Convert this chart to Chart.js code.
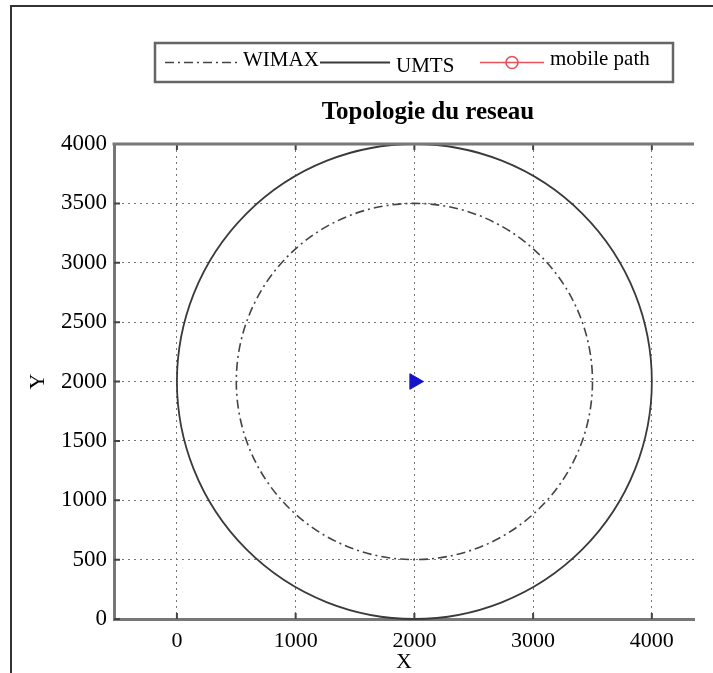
<!DOCTYPE html>
<html>
<head>
<meta charset="utf-8">
<script src="https://cdn.jsdelivr.net/npm/chart.js@4.4.1/dist/chart.umd.min.js"></script>
<style>
  html, body { margin: 0; padding: 0; background: #fff; }
  #wrap { width: 713px; height: 673px; }
</style>
</head>
<body>
<div id="wrap"><canvas id="topo" width="713" height="673"></canvas></div>
<script>
// Cells: centre and coverage radius (m)
const cellNames = ['WIMAX', 'UMTS'];
const cellCenterX = [2000, 2000];
const cellCenterY = [2000, 2000];
const cellRadius = [1500, 2000];

// Mobile path (nothing travelled yet) and base station marker
const mobilePathX = [];
const mobilePathY = [];
const stationX = [2000];
const stationY = [2000];

// Axes
const xTicks = [0, 1000, 2000, 3000, 4000];
const yTicks = [0, 500, 1000, 1500, 2000, 2500, 3000, 3500, 4000];
const xRange = [-530, 4355];
const yRange = [0, 4000];

const chartTitle = 'Topologie du reseau';
const serif = '"Liberation Serif", "Times New Roman", serif';

function toPoints(xs, ys) {
    return xs.map((x, i) => ({ x: x, y: ys[i] }));
}

// White page + the thin frame round the figure
const framePlugin = {
    id: 'frame',
    beforeDraw(chart) {
        const ctx = chart.ctx;
        ctx.save();
        ctx.fillStyle = '#fff';
        ctx.fillRect(0, 0, chart.width, chart.height);
        ctx.strokeStyle = '#333';
        ctx.lineWidth = 2;
        ctx.beginPath();
        ctx.moveTo(11, chart.height);
        ctx.lineTo(11, 6);
        ctx.lineTo(chart.width, 6);
        ctx.stroke();
        ctx.restore();
    }
};

// Coverage circles drawn through the scales
const coveragePlugin = {
    id: 'coverage',
    beforeDatasetsDraw(chart) {
        const { ctx, chartArea, scales: { x, y } } = chart;
        ctx.save();
        ctx.beginPath();
        ctx.rect(chartArea.left, chartArea.top - 2, chartArea.right - chartArea.left, chartArea.bottom - chartArea.top + 4);
        ctx.clip();
        chart.data.datasets.forEach(ds => {
            if (ds.coverage === undefined) return;
            const c = ds.data[0];
            const px = x.getPixelForValue(c.x);
            const py = y.getPixelForValue(c.y);
            const rx = Math.abs(x.getPixelForValue(c.x + ds.coverage) - px);
            const ry = Math.abs(y.getPixelForValue(c.y + ds.coverage) - py);
            ctx.beginPath();
            ctx.setLineDash(ds.borderDash || []);
            ctx.lineWidth = ds.borderWidth;
            ctx.strokeStyle = ds.borderColor;
            ctx.ellipse(px, py, rx, ry, 0, 0, Math.PI * 2);
            ctx.stroke();
        });
        ctx.restore();
    }
};

// Top spine and the little inward tick marks
const spinePlugin = {
    id: 'spines',
    afterDatasetsDraw(chart) {
        const { ctx, chartArea: a, scales: { x, y } } = chart;
        ctx.save();
        ctx.strokeStyle = '#444';
        ctx.lineWidth = 2;
        ctx.beginPath();
        xTicks.forEach(v => {
            const px = x.getPixelForValue(v);
            ctx.moveTo(px, a.bottom); ctx.lineTo(px, a.bottom - 6);
            ctx.moveTo(px, a.top); ctx.lineTo(px, a.top + 6);
        });
        yTicks.forEach(v => {
            const py = y.getPixelForValue(v);
            ctx.moveTo(a.left, py); ctx.lineTo(a.left + 6, py);
        });
        ctx.stroke();
        ctx.strokeStyle = '#777';
        ctx.lineWidth = 3;
        ctx.beginPath();
        ctx.moveTo(a.left - 1.5, a.top);
        ctx.lineTo(a.right, a.top);
        ctx.stroke();
        ctx.restore();
    }
};

// Boxed legend and title, MATLAB style
const boxLegendPlugin = {
    id: 'boxLegend',
    afterDraw(chart, args, opts) {
        const ctx = chart.ctx;
        const b = opts.box;
        ctx.save();
        ctx.fillStyle = '#000';
        ctx.textAlign = 'center';
        ctx.textBaseline = 'middle';
        ctx.font = 'bold 25px ' + serif;
        ctx.fillText(opts.title, opts.titleX, opts.titleY);

        ctx.textAlign = 'left';
        ctx.strokeStyle = '#666';
        ctx.lineWidth = 2.5;
        ctx.strokeRect(b.left, b.top, b.right - b.left, b.bottom - b.top);
        ctx.font = '21px ' + serif;
        const midY = (b.top + b.bottom) / 2;
        chart.data.datasets.forEach((ds, i) => {
            const slot = opts.slots[i];
            if (!slot) return;
            const x0 = slot.x, x1 = slot.x + slot.w;
            ctx.beginPath();
            ctx.setLineDash(ds.borderDash || []);
            ctx.strokeStyle = ds.borderColor;
            ctx.lineWidth = ds.borderWidth;
            ctx.moveTo(x0, midY);
            ctx.lineTo(x1, midY);
            ctx.stroke();
            ctx.setLineDash([]);
            if (ds.legendMarker) {
                ctx.beginPath();
                ctx.arc((x0 + x1) / 2, midY, 6, 0, Math.PI * 2);
                ctx.stroke();
            }
            ctx.fillText(ds.label, x1 + opts.gap, midY + slot.dy);
        });
        ctx.restore();
    }
};

const ctx = document.getElementById('topo').getContext('2d');
const chart = new Chart(ctx, {
    type: 'scatter',
    data: {
        datasets: [
            {
                label: cellNames[0],
                data: [{ x: cellCenterX[0], y: cellCenterY[0] }],
                coverage: cellRadius[0],
                borderColor: '#444',
                borderWidth: 1.6,
                borderDash: [9, 4, 2, 4],
                pointRadius: 0,
                showLine: false
            },
            {
                label: cellNames[1],
                data: [{ x: cellCenterX[1], y: cellCenterY[1] }],
                coverage: cellRadius[1],
                borderColor: '#3a3a3a',
                borderWidth: 1.8,
                pointRadius: 0,
                showLine: false
            },
            {
                label: 'mobile path',
                data: toPoints(mobilePathX, mobilePathY),
                borderColor: '#e8505a',
                backgroundColor: 'rgba(0,0,0,0)',
                borderWidth: 1.6,
                showLine: true,
                pointStyle: 'circle',
                pointRadius: 6,
                legendMarker: true
            },
            {
                label: 'station',
                data: toPoints(stationX, stationY),
                pointStyle: 'triangle',
                rotation: 90,
                pointRadius: 9,
                backgroundColor: '#1414c8',
                borderColor: '#1414c8',
                borderWidth: 1
            }
        ]
    },
    options: {
        responsive: false,
        animation: false,
        layout: { padding: { left: 0, right: 19, top: 144, bottom: 0 } },
        scales: {
            x: {
                type: 'linear',
                min: xRange[0],
                max: xRange[1],
                afterBuildTicks: scale => { scale.ticks = xTicks.map(v => ({ value: v })); },
                afterFit: scale => { scale.height = 54; },
                grid: { color: '#777', lineWidth: 1, drawTicks: false },
                border: { display: true, color: '#777', width: 3, dash: [2, 4] },
                ticks: {
                    color: '#000',
                    padding: 9,
                    maxRotation: 0,
                    font: { family: serif, size: 22 },
                    callback: v => String(v)
                },
                title: {
                    display: true,
                    text: 'X',
                    color: '#000',
                    font: { family: serif, size: 22 },
                    padding: { top: 0, bottom: -2 }
                }
            },
            y: {
                type: 'linear',
                min: yRange[0],
                max: yRange[1],
                afterBuildTicks: scale => { scale.ticks = yTicks.map(v => ({ value: v })); },
                afterFit: scale => { scale.width = 114; },
                grid: { color: '#777', lineWidth: 1, drawTicks: false },
                border: { display: true, color: '#777', width: 3, dash: [2, 4] },
                ticks: {
                    color: '#000',
                    padding: 7,
                    font: { family: serif, size: 23 },
                    callback: v => String(v)
                },
                title: {
                    display: true,
                    text: 'Y',
                    color: '#000',
                    font: { family: serif, size: 22 },
                    padding: { top: 25, bottom: 0 }
                }
            }
        },
        plugins: {
            legend: { display: false },
            tooltip: { enabled: false },
            title: { display: false },
            boxLegend: {
                title: chartTitle,
                titleX: 428,
                titleY: 113,
                box: { left: 155, top: 43, right: 673, bottom: 82 },
                gap: 6,
                slots: [
                    { x: 165, w: 72, dy: -2 },
                    { x: 320, w: 70, dy: 4 },
                    { x: 480, w: 64, dy: -3 }
                ]
            }
        }
    },
    plugins: [framePlugin, coveragePlugin, spinePlugin, boxLegendPlugin]
});
</script>
</body>
</html>
